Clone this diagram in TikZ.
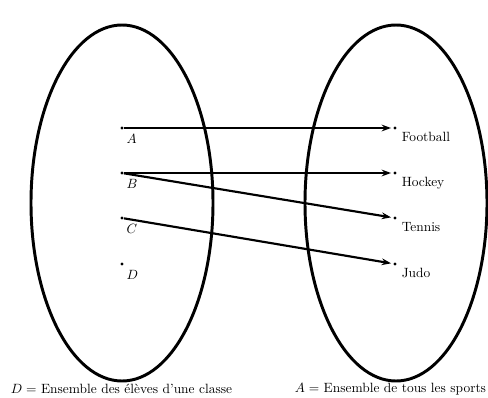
\documentclass[tikz,border=0pt]{standalone}
\usetikzlibrary{arrows.meta}
\begin{document}
\begin{tikzpicture}[x=0.745pt, y=-0.745pt]
        \tikzstyle{set}=[line width=2.2pt]
        \tikzstyle{pt}=[circle, fill, inner sep=0pt, minimum size=2.5pt]
        \tikzstyle{lbl}=[inner sep=1pt, label distance=3pt]
        \tikzstyle{map}=[line width=1.6pt, -{Stealth[length=7pt, width=5pt]}, shorten >=1.5pt]
        \useasboundingbox (0,0) rectangle (488,398);
        \draw[set] (122,203) ellipse [x radius=91, y radius=178];
        \draw[set] (396,203) ellipse [x radius=91, y radius=178];
        \node[pt, label={[lbl]-60:$A$}] (eA) at (122,128) {};
        \node[pt, label={[lbl]-60:$B$}] (eB) at (122,173) {};
        \node[pt, label={[lbl]-60:$C$}] (eC) at (122,218) {};
        \node[pt, label={[lbl]-60:$D$}] (eD) at (122,264) {};
        \node[pt, label={[lbl, anchor=north west]-30:Football}] (sF) at (395,128) {};
        \node[pt, label={[lbl, anchor=north west]-30:Hockey}] (sH) at (395,173) {};
        \node[pt, label={[lbl, anchor=north west]-30:Tennis}] (sT) at (395,218) {};
        \node[pt, label={[lbl, anchor=north west]-30:Judo}] (sJ) at (395,264) {};
        \draw[map] (eA) -- (sF);
        \draw[map] (eB) -- (sH);
        \draw[map] (eB) -- (sT);
        \draw[map] (eC) -- (sJ);
        \node (capD) at (121.5,389) {$D=$ Ensemble des élèves d'une classe};
        \node (capA) at (390.5,389) {$A=$ Ensemble de tous les sports};
    \end{tikzpicture}
\end{document}
